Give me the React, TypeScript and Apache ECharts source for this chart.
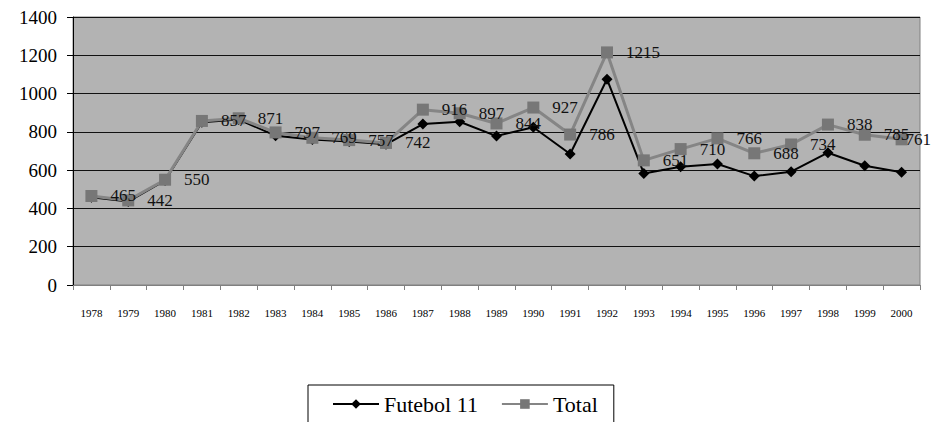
import React, { useEffect, useRef } from "react";
import * as echarts from "echarts";

const years = ["1978","1979","1980","1981","1982","1983","1984","1985","1986","1987","1988","1989","1990","1991","1992","1993","1994","1995","1996","1997","1998","1999","2000"];
const futebol11 = [458, 436, 546, 850, 864, 780, 760, 750, 735, 841, 853, 778, 824, 684, 1075, 583, 618, 632, 569, 592, 691, 623, 589];
const total = [465, 442, 550, 857, 871, 797, 769, 757, 742, 916, 897, 844, 927, 786, 1215, 651, 710, 766, 688, 734, 838, 785, 761];
const yTicks = [0, 1400, 200];

const SERIF = "Liberation Serif, serif";

export default function App() {
  const ref = useRef<HTMLDivElement>(null);
  useEffect(() => {
    document.body.style.margin = "0";
    const chart = echarts.init(ref.current!, undefined, { renderer: "svg" });
    const totalData = total.map((v, i) =>
      i === total.length - 1 ? { value: v, label: { distance: -2 } } : v
    );
    chart.setOption({
      animation: false,
      backgroundColor: "#ffffff",
      textStyle: { fontFamily: SERIF },
      grid: {
        left: 73,
        right: 18,
        top: 17,
        bottom: 137,
        show: true,
        backgroundColor: "#b3b3b3",
        borderColor: "#808080",
        borderWidth: 1,
      },
      legend: {
        left: 308,
        top: 385,
        padding: [8, 16, 20, 24],
        borderColor: "#000",
        borderWidth: 1,
        itemWidth: 46,
        itemHeight: 12,
        itemGap: 23,
        textStyle: { fontFamily: SERIF, fontSize: 22, color: "#000" },
        data: ["Futebol 11", "Total"],
      },
      xAxis: {
        type: "category",
        data: years,
        boundaryGap: true,
        axisLine: { show: true, lineStyle: { color: "#808080", width: 1 } },
        axisTick: { show: true, length: 5, lineStyle: { color: "#808080" } },
        axisLabel: { margin: 22, fontFamily: SERIF, fontSize: 11, color: "#000", interval: 0 },
      },
      yAxis: {
        type: "value",
        min: yTicks[0],
        max: yTicks[1],
        interval: yTicks[2],
        axisLine: { show: true, lineStyle: { color: "#000", width: 1 } },
        axisTick: { show: true, length: 6, lineStyle: { color: "#000" } },
        axisLabel: {
          margin: 16,
          fontFamily: SERIF,
          fontSize: 19,
          color: "#000",
          formatter: (v: number) => String(v),
        },
        splitLine: { show: true, lineStyle: { color: "#111", width: 1 } },
      },
      series: [
        {
          name: "Futebol 11",
          type: "line",
          data: futebol11,
          symbol: "diamond",
          symbolSize: 11,
          lineStyle: { color: "#000", width: 2 },
          itemStyle: { color: "#000" },
          z: 2,
        },
        {
          name: "Total",
          type: "line",
          data: totalData,
          symbol: "rect",
          symbolSize: 12,
          lineStyle: { color: "#858585", width: 3 },
          itemStyle: { color: "#777777" },
          label: {
            show: true,
            position: "right",
            distance: 13,
            fontFamily: SERIF,
            fontSize: 17,
            color: "#111",
          },
          z: 3,
        },
      ],
    });
    return () => chart.dispose();
  }, []);
  return <div ref={ref} style={{ width: 938, height: 422 }} />;
}
